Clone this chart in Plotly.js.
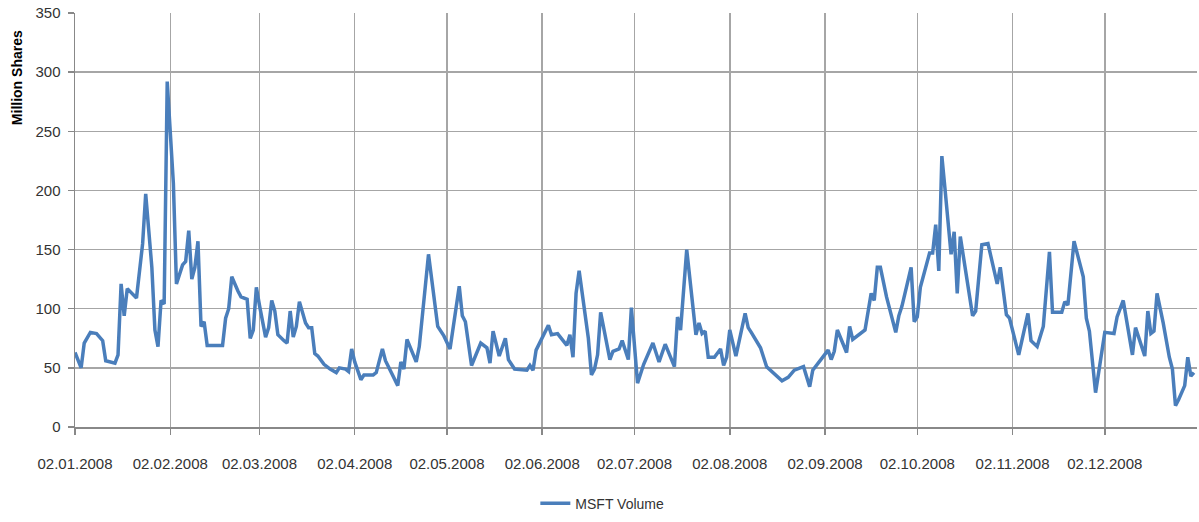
<!DOCTYPE html>
<html>
<head>
<meta charset="utf-8">
<script src="https://cdn.plot.ly/plotly-3.0.1.min.js"></script>
<style>
  html, body { margin: 0; padding: 0; background: #ffffff; }
  #chart { width: 1199px; height: 522px; }
</style>
</head>
<body>
<div id="chart"></div>
<script>
// Trading dates (vertices) and MSFT volume in million shares
const dates = [
  '2008-01-02','2008-01-04','2008-01-05','2008-01-07','2008-01-09','2008-01-11','2008-01-12','2008-01-15','2008-01-16','2008-01-17',
  '2008-01-18','2008-01-19','2008-01-22','2008-01-23','2008-01-24','2008-01-25','2008-01-26','2008-01-27','2008-01-28','2008-01-29',
  '2008-01-30','2008-01-31','2008-02-01','2008-02-02','2008-02-03','2008-02-04','2008-02-06','2008-02-07','2008-02-08','2008-02-09',
  '2008-02-10','2008-02-11','2008-02-12','2008-02-13','2008-02-14','2008-02-19','2008-02-20','2008-02-21','2008-02-22','2008-02-24',
  '2008-02-25','2008-02-27','2008-02-28','2008-02-29','2008-03-01','2008-03-02','2008-03-04','2008-03-05','2008-03-06','2008-03-07',
  '2008-03-08','2008-03-10','2008-03-11','2008-03-12','2008-03-13','2008-03-14','2008-03-15','2008-03-17','2008-03-18','2008-03-19',
  '2008-03-20','2008-03-21','2008-03-23','2008-03-25','2008-03-27','2008-03-28','2008-03-30','2008-03-31','2008-04-01','2008-04-02',
  '2008-04-04','2008-04-05','2008-04-08','2008-04-09','2008-04-11','2008-04-12','2008-04-14','2008-04-16','2008-04-17','2008-04-18',
  '2008-04-19','2008-04-22','2008-04-23','2008-04-26','2008-04-29','2008-05-01','2008-05-03','2008-05-06','2008-05-07','2008-05-08',
  '2008-05-10','2008-05-13','2008-05-15','2008-05-16','2008-05-17','2008-05-19','2008-05-21','2008-05-22','2008-05-24','2008-05-28',
  '2008-05-29','2008-05-30','2008-05-31','2008-06-04','2008-06-05','2008-06-07','2008-06-10','2008-06-11','2008-06-12','2008-06-13',
  '2008-06-14','2008-06-15','2008-06-17','2008-06-18','2008-06-19','2008-06-20','2008-06-21','2008-06-24','2008-06-25','2008-06-27',
  '2008-06-28','2008-06-30','2008-07-01','2008-07-03','2008-07-05','2008-07-08','2008-07-10','2008-07-12','2008-07-15','2008-07-16',
  '2008-07-17','2008-07-19','2008-07-22','2008-07-23','2008-07-24','2008-07-25','2008-07-26','2008-07-28','2008-07-30','2008-07-31',
  '2008-08-01','2008-08-02','2008-08-04','2008-08-07','2008-08-08','2008-08-09','2008-08-12','2008-08-14','2008-08-16','2008-08-19',
  '2008-08-21','2008-08-23','2008-08-26','2008-08-28','2008-08-29','2008-09-03','2008-09-04','2008-09-05','2008-09-06','2008-09-09',
  '2008-09-10','2008-09-11','2008-09-15','2008-09-17','2008-09-18','2008-09-19','2008-09-20','2008-09-22','2008-09-25','2008-09-26',
  '2008-09-27','2008-09-30','2008-10-01','2008-10-02','2008-10-03','2008-10-06','2008-10-07','2008-10-08','2008-10-09','2008-10-10',
  '2008-10-11','2008-10-13','2008-10-14','2008-10-15','2008-10-16','2008-10-18','2008-10-20','2008-10-21','2008-10-23','2008-10-25',
  '2008-10-28','2008-10-29','2008-10-30','2008-10-31','2008-11-01','2008-11-04','2008-11-07','2008-11-08','2008-11-10','2008-11-12',
  '2008-11-14','2008-11-15','2008-11-18','2008-11-19','2008-11-20','2008-11-22','2008-11-25','2008-11-26','2008-11-27','2008-11-29',
  '2008-12-02','2008-12-05','2008-12-06','2008-12-08','2008-12-11','2008-12-12','2008-12-15','2008-12-16','2008-12-17','2008-12-18',
  '2008-12-19','2008-12-21','2008-12-23','2008-12-24','2008-12-25','2008-12-26','2008-12-28','2008-12-29','2008-12-30','2008-12-31'
];
const msftVolume = [
  63, 50, 71, 80, 79, 73, 56, 54, 61, 121,
  94, 117, 109, 135, 155, 197, 168, 135, 82, 68,
  107, 104, 292, 250, 206, 121, 137, 140, 166, 125,
  135, 157, 85, 89, 69, 69, 92, 100, 127, 115,
  110, 108, 75, 82, 118, 103, 76, 84, 107, 98,
  78, 73, 71, 98, 76, 85, 106, 88, 84, 84,
  62, 60, 53, 49, 46, 50, 49, 47, 66, 55,
  40, 44, 44, 46, 66, 56, 45, 35, 55, 49,
  74, 55, 68, 146, 85, 77, 66, 119, 94, 89,
  52, 71, 67, 54, 81, 60, 75, 57, 49, 48,
  52, 48, 65, 86, 78, 79, 69, 78, 59, 113,
  132, 113, 75, 44, 49, 61, 97, 57, 64, 66,
  73, 57, 101, 37, 53, 71, 55, 70, 51, 93,
  82, 150, 78, 88, 79, 81, 59, 59, 66, 52,
  59, 82, 60, 96, 84, 80, 67, 51, 46, 39,
  42, 48, 51, 34, 48, 65, 57, 64, 82, 63,
  85, 74, 82, 113, 107, 135, 135, 110, 80, 94,
  102, 135, 89, 93, 118, 147, 147, 171, 132, 229,
  202, 146, 165, 113, 161, 129, 94, 98, 154, 155,
  121, 135, 117, 95, 92, 61, 96, 73, 68, 85,
  148, 97, 97, 106, 103, 157, 127, 92, 81, 29,
  80, 79, 93, 107, 61, 84, 60, 98, 79, 81,
  113, 88, 59, 49, 18, 23, 35, 59, 43, 46
];
const tickDates = ['2008-01-02','2008-02-02','2008-03-02','2008-04-02','2008-05-02','2008-06-02',
                   '2008-07-02','2008-08-02','2008-09-02','2008-10-02','2008-11-02','2008-12-02'];
const tickLabels = ['02.01.2008','02.02.2008','02.03.2008','02.04.2008','02.05.2008','02.06.2008',
                    '02.07.2008','02.08.2008','02.09.2008','02.10.2008','02.11.2008','02.12.2008'];
const seriesName = 'MSFT Volume';
const yTitle = 'Million Shares';

const FONT = 'Liberation Sans, Arial, sans-serif';

const trace = {
  type: 'scatter',
  mode: 'lines',
  x: dates,
  y: msftVolume,
  name: seriesName,
  line: { color: '#4a7ebb', width: 3.5 },
  hoverinfo: 'skip'
};

const layout = {
  width: 1199,
  height: 522,
  margin: { l: 75, r: 2, t: 13, b: 86 },
  paper_bgcolor: '#ffffff',
  plot_bgcolor: '#ffffff',
  font: { family: FONT, size: 15, color: '#333333' },
  showlegend: true,
  legend: {
    orientation: 'h',
    x: 0.47, xanchor: 'center',
    y: -0.185, yanchor: 'middle',
    font: { family: FONT, size: 14, color: '#333333' },
    bgcolor: 'rgba(0,0,0,0)'
  },
  xaxis: {
    type: 'date',
    range: ['2008-01-02', '2009-01-01'],
    tickmode: 'array',
    tickvals: tickDates,
    ticktext: tickLabels,
    showgrid: true,
    gridcolor: '#a6a6a6',
    gridwidth: 1.5,
    showline: true,
    linecolor: '#888888',
    linewidth: 2,
    ticks: 'outside',
    ticklen: 6,
    tickcolor: '#888888',
    tickwidth: 1.5,
    ticklabelstandoff: 16,
    tickfont: { family: FONT, size: 15, color: '#333333' },
    zeroline: false,
    fixedrange: true
  },
  yaxis: {
    range: [0, 350],
    tickmode: 'linear',
    tick0: 0,
    dtick: 50,
    showgrid: true,
    gridcolor: '#a6a6a6',
    gridwidth: 1.5,
    showline: true,
    linecolor: '#888888',
    linewidth: 1.5,
    ticks: 'outside',
    ticklen: 6,
    tickcolor: '#888888',
    tickwidth: 1.5,
    ticklabelstandoff: 4,
    tickfont: { family: FONT, size: 15, color: '#333333' },
    zeroline: false,
    fixedrange: true
  },
  annotations: [{
    text: '<b>' + yTitle + '</b>',
    xref: 'paper', yref: 'paper',
    x: -0.0517, y: 0.845,
    xanchor: 'center', yanchor: 'middle',
    textangle: -90,
    showarrow: false,
    font: { family: FONT, size: 14, color: '#000000' }
  }]
};

Plotly.newPlot('chart', [trace], layout, { displayModeBar: false, staticPlot: true });
</script>
</body>
</html>
